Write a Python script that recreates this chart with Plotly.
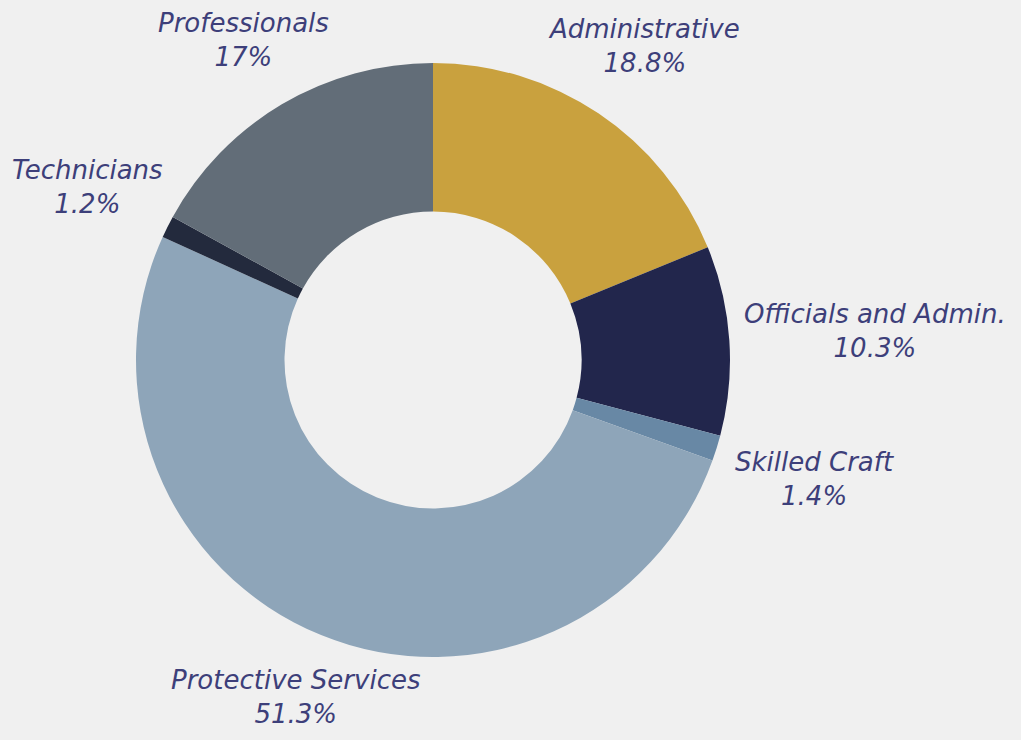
import math
import plotly.graph_objects as go

# Workforce composition by job category (percent of total)
categories = ["Administrative", "Officials and Admin.", "Skilled Craft",
              "Protective Services", "Technicians", "Professionals"]
shares = [18.8, 10.3, 1.4, 51.3, 1.2, 17]
colors = ["#c9a13e", "#22264c", "#6888a5", "#8ea5b9", "#232a3d", "#626d78"]

W, H = 1021, 740
cx, cy, r = 433, 360, 297
font_size = 26
label_gap = 10
text_color = "#3d3f7a"

fig = go.Figure(go.Pie(
    labels=categories,
    values=shares,
    sort=False,
    direction="clockwise",
    rotation=0,
    hole=0.5,
    marker=dict(colors=colors, line=dict(width=0)),
    textinfo="none",
    hoverinfo="label+value",
    showlegend=False,
    domain=dict(x=[(cx - r) / W, (cx + r) / W], y=[(H - cy - r) / H, (H - cy + r) / H]),
))


def box_distance(px, py, hw, hh):
    """Distance from the pie centre to the nearest point of a label box."""
    dx = max(abs(px) - hw, 0.0)
    dy = max(abs(py) - hh, 0.0)
    return math.hypot(dx, dy)


# Labels sit on each slice's mid-angle, pushed out until they clear the ring
total = sum(shares)
cum = 0.0
annotations = []
for name, val in zip(categories, shares):
    mid = (cum + val / 2) / total * 2 * math.pi
    cum += val
    ux, uy = math.sin(mid), -math.cos(mid)
    text_lines = [name, f"{val:g}%"]
    hw = max(len(t) for t in text_lines) * 0.52 * font_size / 2
    hh = 30
    lo, hi = 0.0, 1000.0
    for _ in range(60):
        d = (lo + hi) / 2
        if box_distance(ux * d, uy * d, hw, hh) < r + label_gap:
            lo = d
        else:
            hi = d
    px, py = cx + ux * hi, cy + uy * hi
    annotations.append(dict(
        x=px / W, y=1 - py / H, xref="paper", yref="paper",
        xanchor="center", yanchor="middle", align="center", showarrow=False,
        text="<br>".join(text_lines),
        font=dict(family="DejaVu Sans", size=font_size, color=text_color, style="italic"),
    ))

fig.update_layout(
    width=W, height=H,
    margin=dict(l=0, r=0, t=0, b=0),
    paper_bgcolor="#f0f0f0",
    plot_bgcolor="#f0f0f0",
    annotations=annotations,
)

fig.write_html("out.html")
